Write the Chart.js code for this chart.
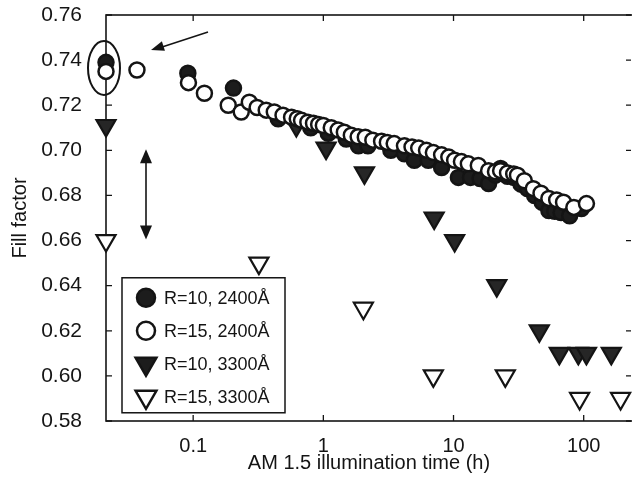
<!DOCTYPE html>
<html lang="en">
<head>
<meta charset="UTF-8">
<title>Fill factor vs illumination time</title>
<script src="https://cdn.jsdelivr.net/npm/chart.js@4.4.1/dist/chart.umd.min.js"></script>
<style>
  body { margin: 0; background: #fff; }
  #wrap { width: 632px; height: 485px; }
</style>
</head>
<body>
<div id="wrap"><canvas id="ff"></canvas></div>
<script>
// axis range (h) and ticks
var xMin = 0.0214, xMax = 235;
var xTicks = [0.1, 1, 10, 100];
var yTicks = [0.58, 0.60, 0.62, 0.64, 0.66, 0.68, 0.70, 0.72, 0.74, 0.76];

// t = 0 points sit on the left axis (xMin)
// R=15, 2400A  (open circles)
var openCircX = [xMin, 0.037, 0.092, 0.122, 0.186, 0.234, 0.27, 0.31, 0.364, 0.42, 0.49, 0.57, 0.63, 0.68, 0.76, 0.84, 0.92, 1.0,
                 1.15, 1.3, 1.45, 1.64, 1.85, 2.1, 2.4, 2.8, 3.1, 3.5, 4.2, 4.8, 5.4, 6.2, 7.0, 8.1, 9.2, 10.2, 11.5, 13,
                 15.5, 18.6, 21, 23, 26, 29, 31, 35, 41, 47, 54, 62, 70, 84, 105];
var openCircY = [0.735, 0.7356, 0.730, 0.7253, 0.720, 0.717, 0.7213, 0.719, 0.7178, 0.717, 0.7156, 0.7147, 0.714, 0.7133, 0.7125, 0.712, 0.7115, 0.711,
                 0.710, 0.709, 0.708, 0.7067, 0.706, 0.7058, 0.7045, 0.704, 0.7035, 0.703, 0.702, 0.7015, 0.701, 0.700, 0.699, 0.698, 0.697, 0.6956, 0.695, 0.694,
                 0.6933, 0.691, 0.6905, 0.691, 0.690, 0.6895, 0.689, 0.6865, 0.683, 0.681, 0.6787, 0.678, 0.677, 0.6747, 0.6764];
// R=10, 2400A  (filled circles)
var fillCircX = [xMin, 0.091, 0.204, 0.45, 0.8, 1.09, 1.5, 1.86, 2.2, 3.3, 4.2, 5, 6.4, 8.1, 10.9, 13.5, 16, 18.6, 21, 23, 26, 29, 33, 37, 42, 48, 54, 60, 67, 78, 96];
var fillCircY = [0.739, 0.7342, 0.7276, 0.714, 0.710, 0.7076, 0.705, 0.702, 0.702, 0.700, 0.6985, 0.6956, 0.6956, 0.6924, 0.688, 0.688, 0.6875, 0.6853, 0.689, 0.692, 0.6885, 0.688, 0.685, 0.683, 0.680, 0.677, 0.6733, 0.673, 0.6724, 0.671, 0.6742];
// R=10, 3300A  (filled triangles)
var fillTriX = [xMin, 0.62, 1.05, 2.07, 7.1, 10.2, 21.5, 45.6, 65, 91, 105, 163];
var fillTriY = [0.711, 0.711, 0.701, 0.690, 0.670, 0.660, 0.640, 0.620, 0.610, 0.610, 0.610, 0.610];
// R=15, 3300A  (open triangles)
var openTriX = [xMin, 0.32, 2.03, 7.0, 25, 93, 192];
var openTriY = [0.660, 0.650, 0.630, 0.600, 0.600, 0.590, 0.590];

var seriesNames = ['R=10, 2400\u00c5', 'R=15, 2400\u00c5', 'R=10, 3300\u00c5', 'R=15, 3300\u00c5'];

function pts(xs, ys) {
    var out = [];
    for (var i = 0; i < xs.length; i++) out.push({x: xs[i], y: ys[i]});
    return out;
}

var ink = '#141414';
var fontFam = '"Liberation Sans", Arial, Helvetica, sans-serif';

// frame + inward ticks, drawn under the markers
var framePlugin = {
    id: 'frame',
    beforeDatasetsDraw: function(chart) {
        var c = chart.ctx, a = chart.chartArea;
        var xs = chart.scales.x, ys = chart.scales.y;
        c.save();
        c.strokeStyle = ink;
        c.lineWidth = 1.6;
        c.strokeRect(a.left, a.top, a.right - a.left + 4, a.bottom - a.top);
        c.lineWidth = 1.3;
        c.beginPath();
        xTicks.forEach(function(v) {
            var px = xs.getPixelForValue(v);
            c.moveTo(px, a.bottom); c.lineTo(px, a.bottom - 6);
            c.moveTo(px, a.top); c.lineTo(px, a.top + 6);
        });
        yTicks.forEach(function(v) {
            var py = ys.getPixelForValue(v);
            c.moveTo(a.left, py); c.lineTo(a.left + 6, py);
            c.moveTo(a.right - 1, py); c.lineTo(a.right - 6, py);
        });
        c.stroke();
        c.restore();
    }
};

function arrowHead(c, x, y, ang, len, half) {
    c.beginPath();
    c.moveTo(x, y);
    c.lineTo(x - len * Math.cos(ang) + half * Math.sin(ang), y - len * Math.sin(ang) - half * Math.cos(ang));
    c.lineTo(x - len * Math.cos(ang) - half * Math.sin(ang), y - len * Math.sin(ang) + half * Math.cos(ang));
    c.closePath();
    c.fill();
}

function marker(c, kind, x, y) {
    c.lineWidth = 2.5;
    c.strokeStyle = ink;
    c.beginPath();
    if (kind < 2) {
        c.arc(x, y, 9, 0, Math.PI * 2);
    } else {
        var r = 12;
        c.moveTo(x - r * 0.866, y - r * 0.5);
        c.lineTo(x + r * 0.866, y - r * 0.5);
        c.lineTo(x, y + r);
        c.closePath();
    }
    c.fillStyle = (kind % 2 === 0) ? '#1c1c1c' : '#fff';
    c.fill();
    c.stroke();
}

// annotations and the inset legend
var notePlugin = {
    id: 'notes',
    afterDatasetsDraw: function(chart) {
        var c = chart.ctx, a = chart.chartArea;
        var xs = chart.scales.x, ys = chart.scales.y;
        c.save();
        c.strokeStyle = ink;
        c.fillStyle = ink;
        c.lineWidth = 2;
        // ellipse round the t=0 points
        c.beginPath();
        c.ellipse(a.left - 2, ys.getPixelForValue(0.7365), 16, 27, 0, 0, Math.PI * 2);
        c.stroke();
        // pointer arrow
        var x0 = xs.getPixelForValue(0.045) + 60, y0 = ys.getPixelForValue(0.7525);
        var x1 = xs.getPixelForValue(0.045) + 3, y1 = ys.getPixelForValue(0.7445);
        c.lineWidth = 1.6;
        c.beginPath(); c.moveTo(x0, y0); c.lineTo(x1 + 8, y1 - 2); c.stroke();
        arrowHead(c, x1, y1, Math.atan2(y1 - y0, x1 - x0), 13, 5);
        // double arrow
        var xa = a.left + 40, ya = ys.getPixelForValue(0.7005), yb = ys.getPixelForValue(0.6605);
        c.beginPath(); c.moveTo(xa, ya + 8); c.lineTo(xa, yb - 8); c.stroke();
        arrowHead(c, xa, ya, -Math.PI / 2, 14, 6);
        arrowHead(c, xa, yb, Math.PI / 2, 14, 6);

        // legend box
        var lx = a.left + 16, ly = ys.getPixelForValue(0.6435);
        c.lineWidth = 1.5;
        c.fillStyle = '#fff';
        c.fillRect(lx, ly, 163, 135);
        c.strokeRect(lx, ly, 163, 135);
        c.font = '18px ' + fontFam;
        c.textBaseline = 'middle';
        for (var i = 0; i < seriesNames.length; i++) {
            var ry = ly + 20 + i * 33;
            marker(c, i, lx + 24, ry);
            c.fillStyle = ink;
            c.fillText(seriesNames[i], lx + 42, ry + 1);
        }
        c.restore();
    }
};

var dotStyle = {pointStyle: 'circle', pointRadius: 7.5, pointBorderWidth: 2.5, pointBorderColor: ink, showLine: false, clip: false};
var triStyle = {pointStyle: 'triangle', pointRotation: 180, pointRadius: 11, pointBorderWidth: 2.2, pointBorderColor: ink, showLine: false, clip: false};

new Chart(document.getElementById('ff'), {
    type: 'scatter',
    data: {
        datasets: [
            Object.assign({label: seriesNames[1], data: pts(openCircX, openCircY), pointBackgroundColor: '#fff', order: 0}, dotStyle),
            Object.assign({label: seriesNames[0], data: pts(fillCircX, fillCircY), pointBackgroundColor: '#1c1c1c', order: 1}, dotStyle),
            Object.assign({label: seriesNames[2], data: pts(fillTriX, fillTriY), pointBackgroundColor: '#262626', order: 2}, triStyle),
            Object.assign({label: seriesNames[3], data: pts(openTriX, openTriY), pointBackgroundColor: '#fff', order: 3}, triStyle)
        ]
    },
    options: {
        responsive: true,
        maintainAspectRatio: false,
        animation: false,
        layout: {autoPadding: false, padding: {left: 0, right: 0, top: 15, bottom: 0}},
        plugins: {legend: {display: false}, tooltip: {enabled: false}},
        scales: {
            x: {
                type: 'logarithmic',
                min: xMin, max: xMax,
                afterBuildTicks: function(s) { s.ticks = xTicks.map(function(v) { return {value: v}; }); },
                afterFit: function(s) { s.height = 64; s.paddingLeft = 0; s.paddingRight = 0; },
                grid: {display: false, drawTicks: false},
                border: {display: false},
                ticks: {
                    padding: 13, color: ink, maxRotation: 0, autoSkip: false,
                    font: {family: fontFam, size: 20},
                    callback: function(v) { return String(v); }
                },
                title: {display: true, text: 'AM 1.5 illumination time (h)', color: ink,
                        font: {family: fontFam, size: 20}, padding: {top: 0, bottom: 10}}
            },
            y: {
                min: 0.58, max: 0.76,
                afterBuildTicks: function(s) { s.ticks = yTicks.map(function(v) { return {value: v}; }); },
                afterFit: function(s) { s.width = 106; s.paddingTop = 0; s.paddingBottom = 0; },
                grid: {display: false, drawTicks: false},
                border: {display: false},
                ticks: {
                    padding: 24, color: ink,
                    font: {family: fontFam, size: 21},
                    callback: function(v) { return v.toFixed(2); }
                },
                title: {display: true, text: 'Fill factor', color: ink,
                        font: {family: fontFam, size: 20}, padding: {top: 8, bottom: 0}}
            }
        }
    },
    plugins: [framePlugin, notePlugin]
});
</script>
</body>
</html>
